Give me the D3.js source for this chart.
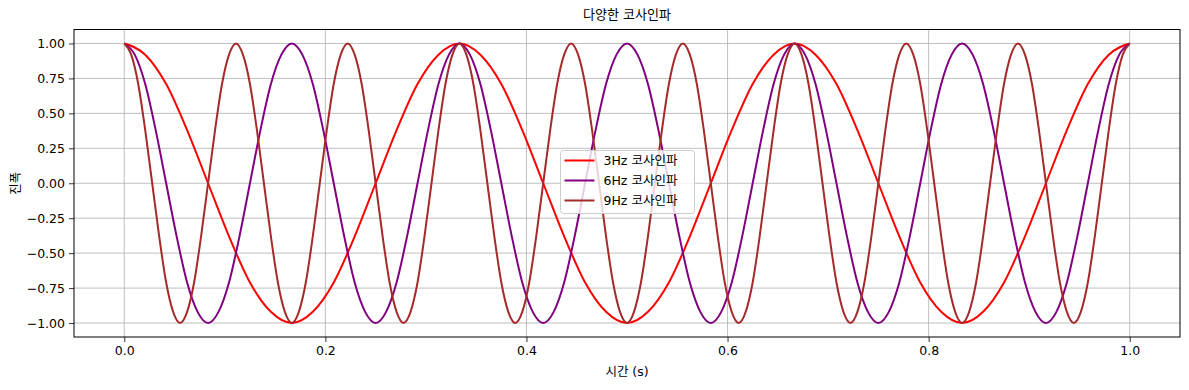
<!DOCTYPE html>
<html>
<head>
<meta charset="utf-8">
<script src="https://cdn.jsdelivr.net/npm/d3@7"></script>
<style>
  body { margin: 0; background: #fff; }
  svg { display: block; font-family: "DejaVu Sans", "Noto Sans CJK KR", sans-serif; }
</style>
</head>
<body>
<svg width="1189" height="390"></svg>
<script>
// amplitude every 1/16 period, evenly spaced over 0..1 s
const wave3 = [
  1, 0.92, 0.71, 0.38, 0, -0.38, -0.71, -0.92, -1, -0.92, -0.71, -0.38, 0, 0.38, 0.71, 0.92,
  1, 0.92, 0.71, 0.38, 0, -0.38, -0.71, -0.92, -1, -0.92, -0.71, -0.38, 0, 0.38, 0.71, 0.92,
  1, 0.92, 0.71, 0.38, 0, -0.38, -0.71, -0.92, -1, -0.92, -0.71, -0.38, 0, 0.38, 0.71, 0.92,
  1
]
const wave6 = [
  1, 0.92, 0.71, 0.38, 0, -0.38, -0.71, -0.92, -1, -0.92, -0.71, -0.38, 0, 0.38, 0.71, 0.92,
  1, 0.92, 0.71, 0.38, 0, -0.38, -0.71, -0.92, -1, -0.92, -0.71, -0.38, 0, 0.38, 0.71, 0.92,
  1, 0.92, 0.71, 0.38, 0, -0.38, -0.71, -0.92, -1, -0.92, -0.71, -0.38, 0, 0.38, 0.71, 0.92,
  1, 0.92, 0.71, 0.38, 0, -0.38, -0.71, -0.92, -1, -0.92, -0.71, -0.38, 0, 0.38, 0.71, 0.92,
  1, 0.92, 0.71, 0.38, 0, -0.38, -0.71, -0.92, -1, -0.92, -0.71, -0.38, 0, 0.38, 0.71, 0.92,
  1, 0.92, 0.71, 0.38, 0, -0.38, -0.71, -0.92, -1, -0.92, -0.71, -0.38, 0, 0.38, 0.71, 0.92,
  1
]
const wave9 = [
  1, 0.92, 0.71, 0.38, 0, -0.38, -0.71, -0.92, -1, -0.92, -0.71, -0.38, 0, 0.38, 0.71, 0.92,
  1, 0.92, 0.71, 0.38, 0, -0.38, -0.71, -0.92, -1, -0.92, -0.71, -0.38, 0, 0.38, 0.71, 0.92,
  1, 0.92, 0.71, 0.38, 0, -0.38, -0.71, -0.92, -1, -0.92, -0.71, -0.38, 0, 0.38, 0.71, 0.92,
  1, 0.92, 0.71, 0.38, 0, -0.38, -0.71, -0.92, -1, -0.92, -0.71, -0.38, 0, 0.38, 0.71, 0.92,
  1, 0.92, 0.71, 0.38, 0, -0.38, -0.71, -0.92, -1, -0.92, -0.71, -0.38, 0, 0.38, 0.71, 0.92,
  1, 0.92, 0.71, 0.38, 0, -0.38, -0.71, -0.92, -1, -0.92, -0.71, -0.38, 0, 0.38, 0.71, 0.92,
  1, 0.92, 0.71, 0.38, 0, -0.38, -0.71, -0.92, -1, -0.92, -0.71, -0.38, 0, 0.38, 0.71, 0.92,
  1, 0.92, 0.71, 0.38, 0, -0.38, -0.71, -0.92, -1, -0.92, -0.71, -0.38, 0, 0.38, 0.71, 0.92,
  1, 0.92, 0.71, 0.38, 0, -0.38, -0.71, -0.92, -1, -0.92, -0.71, -0.38, 0, 0.38, 0.71, 0.92,
  1
]
const seriesNames = ["3Hz 코사인파", "6Hz 코사인파", "9Hz 코사인파"]
const seriesColors = ["red", "purple", "brown"]
const xTicks = [0.0, 0.2, 0.4, 0.6, 0.8, 1.0]
const yTicks = [-1.00, -0.75, -0.50, -0.25, 0.00, 0.25, 0.50, 0.75, 1.00]

const svg = d3.select("svg")
const plotLeft = 74, plotRight = 1180, plotTop = 29.5, plotBottom = 337

const x = d3.scaleLinear().domain([-0.05, 1.05]).range([plotLeft, plotRight])
const y = d3.scaleLinear().domain([-1.1, 1.1]).range([plotBottom, plotTop])

// grid
svg.append("g")
  .selectAll("line")
  .data(xTicks)
  .enter().append("line")
  .attr("x1", d => x(d)).attr("x2", d => x(d))
  .attr("y1", plotTop).attr("y2", plotBottom)
  .attr("stroke", "#b0b0b0").attr("stroke-width", 0.8)
svg.append("g")
  .selectAll("line")
  .data(yTicks)
  .enter().append("line")
  .attr("x1", plotLeft).attr("x2", plotRight)
  .attr("y1", d => y(d)).attr("y2", d => y(d))
  .attr("stroke", "#b0b0b0").attr("stroke-width", 0.8)

// curves
const series = [wave3, wave6, wave9].map((vals, k) => ({
  name: seriesNames[k],
  color: seriesColors[k],
  points: vals.map((v, i) => [i / (vals.length - 1), v])
}))

const line = d3.line()
  .x(d => x(d[0]))
  .y(d => y(d[1]))
  .curve(d3.curveMonotoneX)

svg.append("g")
  .selectAll("path")
  .data(series)
  .enter().append("path")
  .attr("d", d => line(d.points))
  .attr("fill", "none")
  .attr("stroke", d => d.color)
  .attr("stroke-width", 2)
  .attr("stroke-linejoin", "round")

// axes
const xAxis = d3.axisBottom(x).tickValues(xTicks).tickFormat(d3.format(".1f")).tickSize(5).tickPadding(4)
const yAxis = d3.axisLeft(y).tickValues(yTicks).tickFormat(d3.format(".2f")).tickSize(5).tickPadding(4)

svg.append("g").attr("transform", `translate(0,${plotBottom})`).call(xAxis)
  .call(g => g.select(".domain").remove())
svg.append("g").attr("transform", `translate(${plotLeft},0)`).call(yAxis)
  .call(g => g.select(".domain").remove())
svg.selectAll(".tick text").attr("font-size", 12.5).attr("fill", "#000")
  .attr("font-family", "DejaVu Sans")
svg.selectAll(".tick line").attr("stroke", "#000").attr("stroke-width", 0.8)

svg.append("rect")
  .attr("x", plotLeft).attr("y", plotTop)
  .attr("width", plotRight - plotLeft).attr("height", plotBottom - plotTop)
  .attr("fill", "none").attr("stroke", "#000").attr("stroke-width", 1)

// labels
svg.append("text").attr("x", (plotLeft + plotRight) / 2).attr("y", 19)
  .attr("text-anchor", "middle").attr("font-size", 13).text("다양한 코사인파")
svg.append("text").attr("x", (plotLeft + plotRight) / 2).attr("y", 376)
  .attr("text-anchor", "middle").attr("font-size", 12.5).text("시간 (s)")
svg.append("text")
  .attr("transform", `translate(20,${(plotTop + plotBottom) / 2}) rotate(-90)`)
  .attr("text-anchor", "middle").attr("font-size", 12.5).text("진폭")

// legend
const legend = svg.append("g").attr("transform", "translate(560.5,150.5)")
legend.append("rect")
  .attr("width", 134).attr("height", 63).attr("rx", 3)
  .attr("fill", "#fff").attr("fill-opacity", 0.8)
  .attr("stroke", "#cccccc").attr("stroke-width", 1)
const item = legend.selectAll("g.item")
  .data(series)
  .enter().append("g")
  .attr("transform", (d, i) => `translate(0,${10 + i * 20})`)
item.append("line")
  .attr("x1", 4).attr("x2", 34)
  .attr("stroke", d => d.color).attr("stroke-width", 2)
item.append("text")
  .attr("x", 43).attr("dy", "0.35em")
  .attr("font-size", 12.5)
  .text(d => d.name)
</script>
</body>
</html>
